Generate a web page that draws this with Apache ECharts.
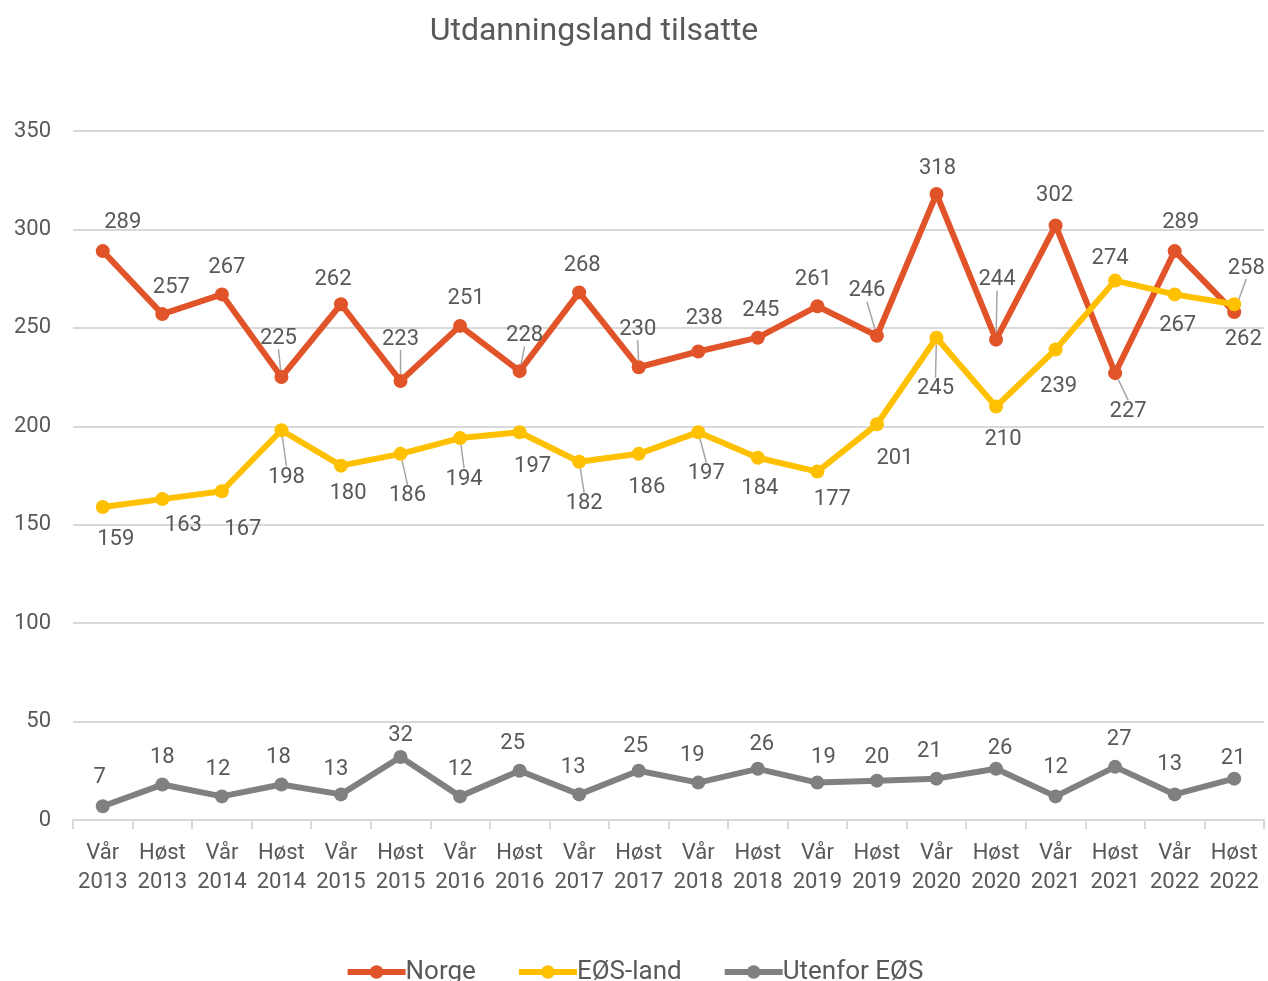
<!DOCTYPE html>
<html>
<head>
<meta charset="utf-8">
<script src="https://cdn.jsdelivr.net/npm/echarts@6/dist/echarts.min.js"></script>
<style>
  html, body { margin: 0; padding: 0; background: #fff; }
  #chart { width: 1268px; height: 981px; }
</style>
</head>
<body>
<div id="chart"></div>
<script>
var categories = ['Vår\n2013', 'Høst\n2013', 'Vår\n2014', 'Høst\n2014', 'Vår\n2015', 'Høst\n2015',
    'Vår\n2016', 'Høst\n2016', 'Vår\n2017', 'Høst\n2017', 'Vår\n2018', 'Høst\n2018',
    'Vår\n2019', 'Høst\n2019', 'Vår\n2020', 'Høst\n2020', 'Vår\n2021', 'Høst\n2021',
    'Vår\n2022', 'Høst\n2022'];
var norge = [289, 257, 267, 225, 262, 223, 251, 228, 268, 230, 238, 245, 261, 246, 318, 244, 302, 227, 289, 258];
var eos = [159, 163, 167, 198, 180, 186, 194, 197, 182, 186, 197, 184, 177, 201, 245, 210, 239, 274, 267, 262];
var utenfor = [7, 18, 12, 18, 13, 32, 12, 25, 13, 25, 19, 26, 19, 20, 21, 26, 12, 27, 13, 21];

// Høst 2021: Norge under EØS, labels byttes
var swapIdx = [17];

// manuelle flytt av dataetiketter (dx, dy) som i Excel
var norgeOff = [[20, -2], [9, 0], [5, 0], [-3, -12], [-8, 2], [0, -15], [6, 0], [5, -9], [3, 0], [-1, -11],
    [6, -6], [3, 0], [-4, 0], [-10, -18], [1, 2], [1, -33], [-1, -3], [13, 11], [6, -2], [12, -17]];
var eosOff = [[13, 6], [21, -1], [21, 11], [5, 20], [7, 1], [7, 15], [4, 14], [13, 7], [5, 15], [8, 7],
    [8, 14], [2, 4], [15, 1], [18, 7], [-1, 24], [7, 6], [3, 10], [-5, 5], [3, 4], [9, 8]];
var utenforOff = [[-3, -2], [0, 0], [-4, 0], [-3, 0], [-5, 2], [0, 5], [0, 0], [-7, 0], [-6, 0], [-3, 3],
    [-6, 0], [4, 3], [6, 2], [0, 4], [-7, 0], [4, 7], [0, -2], [4, 0], [-5, -3], [-1, 7]];

var txt = '#595959';
var font = 'Roboto, "Noto Sans", sans-serif';

function buildData(arr, off, swapPos) {
    return arr.map(function (v, i) {
        var item = { value: v };
        if (swapIdx.indexOf(i) >= 0) {
            item.label = { position: swapPos };
        }
        var o = off[i];
        if (Math.abs(o[1]) >= 9 && !(swapPos === 'top' && Math.abs(o[1]) < 13)) {
            item.labelLine = { show: true };
        }
        return item;
    });
}

function lineSeries(name, data, color, pos, off) {
    return {
        name: name,
        type: 'line',
        data: data,
        symbol: 'circle',
        symbolSize: 14,
        lineStyle: { width: 6, color: color },
        itemStyle: { color: color },
        label: {
            show: true,
            position: pos,
            distance: 9,
            color: txt,
            fontSize: 22,
            fontFamily: font
        },
        labelLine: {
            show: false,
            lineStyle: { color: '#a6a6a6', width: 1.5 }
        },
        labelLayout: function (p) {
            var o = off[p.dataIndex];
            return { dx: o[0], dy: o[1] };
        }
    };
}

var chart = echarts.init(document.getElementById('chart'));
var option = {
    animation: false,
    textStyle: { fontFamily: font },
    title: {
        text: 'Utdanningsland tilsatte',
        left: 589,
        top: 11,
        textAlign: 'center',
        textStyle: { color: txt, fontSize: 32, fontWeight: 'normal', fontFamily: font }
    },
    legend: {
        bottom: -9,
        left: 'center',
        itemWidth: 58,
        itemHeight: 17,
        itemGap: 40,
        lineStyle: { width: 6 },
        textStyle: { color: txt, fontSize: 26, fontFamily: font, padding: [0, 0, 0, -5] },
        data: ['Norge', 'EØS-land', 'Utenfor EØS']
    },
    grid: { left: 73, right: 4, top: 131, bottom: 161, containLabel: false },
    xAxis: {
        type: 'category',
        data: categories,
        boundaryGap: true,
        axisLine: { lineStyle: { color: '#d9d9d9', width: 2 } },
        axisTick: { show: true, length: 9, lineStyle: { color: '#d9d9d9', width: 2 } },
        axisLabel: { color: txt, fontSize: 22, lineHeight: 29, margin: 19, interval: 0, fontFamily: font }
    },
    yAxis: {
        type: 'value',
        min: 0,
        max: 350,
        interval: 50,
        axisLine: { show: false },
        axisTick: { show: false },
        axisLabel: { color: txt, fontSize: 22, margin: 22, fontFamily: font },
        splitLine: { lineStyle: { color: '#d9d9d9', width: 2 } }
    },
    series: [
        lineSeries('Norge', buildData(norge, norgeOff, 'bottom'), '#e1542a', 'top', norgeOff),
        lineSeries('EØS-land', buildData(eos, eosOff, 'top'), '#ffc000', 'bottom', eosOff),
        lineSeries('Utenfor EØS', buildData(utenfor, utenforOff, 'top'), '#808080', 'top', utenforOff)
    ]
};
chart.setOption(option);
window.addEventListener('resize', function () {
    chart.resize();
});
</script>
</body>
</html>
